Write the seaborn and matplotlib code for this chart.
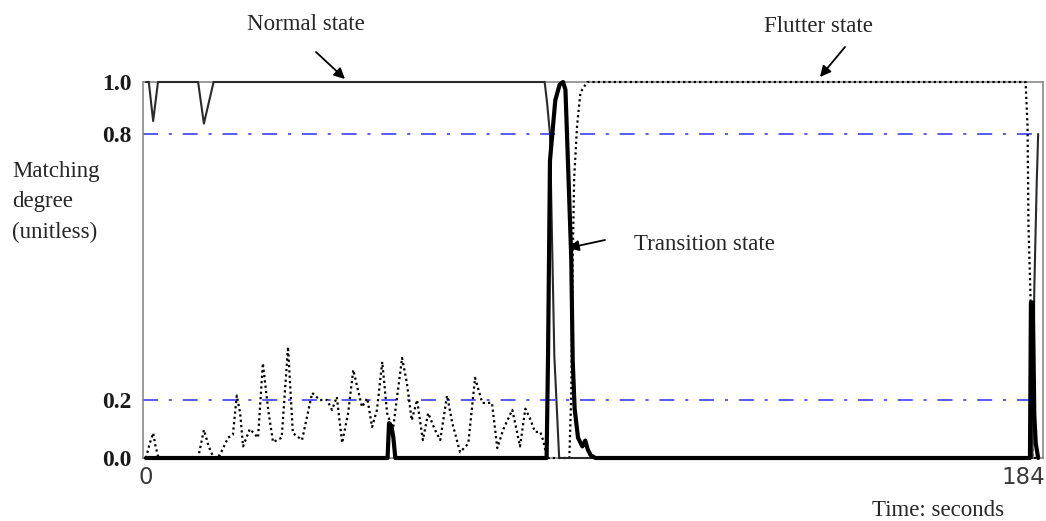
import numpy as np
import matplotlib
matplotlib.use("Agg")
import matplotlib.pyplot as plt
import seaborn as sns

# time axis ticks
x_ticks = [0, 184]
y_ticks = [0.0, 0.2, 0.8, 1.0]
y_tick_labels = ["0.0", "0.2", "0.8", "1.0"]
thresholds = [0.2, 0.8]

# normal state matching degree
normal_t = [0, 0.6, 1.5, 2.5, 10.8, 12.0, 14.0, 82.5, 83.0, 83.6, 84.5, 85.5,
            183.4, 183.8, 184.3, 184.6]
normal_v = [1.0, 1.0, 0.85, 1.0, 1.0, 0.84, 1.0, 1.0, 0.92, 0.8, 0.3, 0.0,
            0.0, 0.45, 0.69, 0.80]

# transition state matching degree
transition_t = [0, 50.0, 50.3, 50.8, 51.2, 51.6, 82.9, 83.2, 83.6, 84.7, 85.6, 86.3,
                86.8, 87.5, 88.0, 88.3, 88.7, 89.4, 90.3, 90.9, 91.4, 92.0, 93.0,
                182.9, 183.1, 183.5, 183.8, 184.1, 184.6]
transition_v = [0, 0, 0.12, 0.11, 0.07, 0, 0, 0.30, 0.74, 0.93, 0.99, 1.0,
                0.97, 0.68, 0.52, 0.29, 0.17, 0.07, 0.04, 0.06, 0.03, 0.01, 0,
                0, 0.42, 0.42, 0.15, 0.05, 0]

# flutter state matching degree
flutter_t = [0, 0.8, 1.5, 2.0, 2.6, 10.8, 12.0, 13.0, 14.0, 15.3, 17.0, 18.0, 18.8,
             19.5, 20.1, 21.5, 23.2, 24.2, 25.3, 26.3, 28.1, 29.4, 30.4, 32.3, 34.4,
             36.0, 37.5, 38.5, 39.5, 40.6, 41.8, 42.9, 44.7, 45.8, 46.8, 47.8, 48.9,
             49.9, 51.1, 53.0, 54.0, 55.0, 56.1, 57.3, 58.4, 59.8, 60.9, 62.3, 63.4,
             65.0, 66.7, 68.1, 69.6, 71.6, 72.7, 73.9, 75.8, 77.4, 78.5, 79.5, 80.5,
             81.6, 82.2, 83.0, 87.6, 88.0, 88.3, 88.6, 89.2, 89.9, 91.3, 182.0,
             182.4, 182.6, 183.0, 183.4, 184.6]
flutter_v = [0.0, 0.05, 0.086, 0.04, 0.0, 0.0, 0.097, 0.04, 0.0, 0.01, 0.07, 0.08, 0.21,
             0.155, 0.04, 0.10, 0.07, 0.283, 0.166, 0.055, 0.07, 0.32, 0.086, 0.062, 0.216,
             0.2, 0.2, 0.166, 0.207, 0.052, 0.15, 0.268, 0.176, 0.204, 0.107, 0.166, 0.286,
             0.155, 0.097, 0.295, 0.238, 0.13, 0.2, 0.062, 0.155, 0.097, 0.062, 0.21, 0.12,
             0.02, 0.05, 0.25, 0.19, 0.19, 0.034, 0.097, 0.166, 0.04, 0.17, 0.135, 0.09,
             0.09, 0.06, 0.0, 0.0, 0.21, 0.52, 0.70, 0.83, 0.96, 1.0, 1.0,
             0.83, 0.59, 0.44, 0.0, 0.0]

sns.set_style("white")
plt.rcParams["font.family"] = ["Liberation Serif", "DejaVu Serif"]

fig = plt.figure(figsize=(10.46, 5.21), dpi=100)
ax = fig.add_axes([143 / 1046, 1 - 458 / 521, 900 / 1046, 376 / 521])

# the original y axis is not evenly spaced between its labels
scale_src = [0.0, 0.2, 0.8, 1.0]
scale_dst = [0.0, 58 / 376, 324 / 376, 1.0]
ax.set_yscale("function", functions=(lambda v: np.interp(v, scale_src, scale_dst),
                                     lambda v: np.interp(v, scale_dst, scale_src)))

for th in thresholds:
    ax.axhline(th, color="#4b4bff", lw=1.3, ls=(0, (8.3, 6, 1.7, 6)), zorder=1)

sns.lineplot(x=flutter_t, y=flutter_v, ax=ax, color="black", lw=1.6,
             linestyle=(0, (1, 1.4)), estimator=None, sort=False, clip_on=False, zorder=3)
sns.lineplot(x=normal_t, y=normal_v, ax=ax, color="#2a2a2a", lw=1.5,
             estimator=None, sort=False, clip_on=False, zorder=4)
sns.lineplot(x=transition_t, y=transition_v, ax=ax, color="black", lw=3,
             estimator=None, sort=False, clip_on=False, zorder=5)

ax.set_xlim(-0.6, 185.6)
ax.set_ylim(0, 1)
ax.set_xticks(x_ticks)
# the last label sits flush with the right edge in the original
ax.set_xticklabels([str(x_ticks[0]), ""], family="DejaVu Sans", fontsize=16.5, color="#3a3a3a")
ax.annotate(str(x_ticks[-1]), xy=(x_ticks[-1], 0), xycoords=("data", "axes fraction"),
            xytext=(7, -6), textcoords="offset points", ha="right", va="top",
            family="DejaVu Sans", fontsize=16.5, color="#3a3a3a")
ax.set_yticks(y_ticks)
ax.set_yticklabels(y_tick_labels, fontsize=17, fontweight="bold", color="#1a1a1a")
ax.yaxis.set_minor_locator(matplotlib.ticker.NullLocator())
ax.tick_params(length=0, pad=8)
ax.tick_params(axis="x", pad=6)
ax.set_xlabel("")
ax.set_ylabel("")
for sp in ax.spines.values():
    sp.set_color("#8a8a8a")
    sp.set_linewidth(1.2)

# labels and arrows (positions, top-left origin)
H = 521
fig.text(12 / 1046, 1 - 202 / H, "Matching\ndegree\n(unitless)", fontsize=16.5,
         va="center", ha="left", linespacing=1.6)
fig.text(938 / 1046, 1 - 510 / H, "Time: seconds", fontsize=16.5, ha="center", va="center")
fig.text(306 / 1046, 1 - 24 / H, "Normal state", fontsize=16.5, ha="center", va="center")
fig.text(818 / 1046, 1 - 27 / H, "Flutter state", fontsize=16.5, ha="center", va="center")
fig.text(634 / 1046, 1 - 245 / H, "Transition state", fontsize=16.5, ha="left", va="center")

arrows = [((316, 52), (345, 79)), ((845, 47), (820, 77)), ((605, 240), (568, 248))]
for (x0, y0), (x1, y1) in arrows:
    ax.annotate("", xy=(x1 / 1046, 1 - y1 / H), xycoords="figure fraction",
                xytext=(x0 / 1046, 1 - y0 / H), textcoords="figure fraction",
                arrowprops=dict(arrowstyle="-|>", color="black", lw=1.3,
                                mutation_scale=16, shrinkA=0, shrinkB=0))

fig.savefig("out.png", dpi=100)
